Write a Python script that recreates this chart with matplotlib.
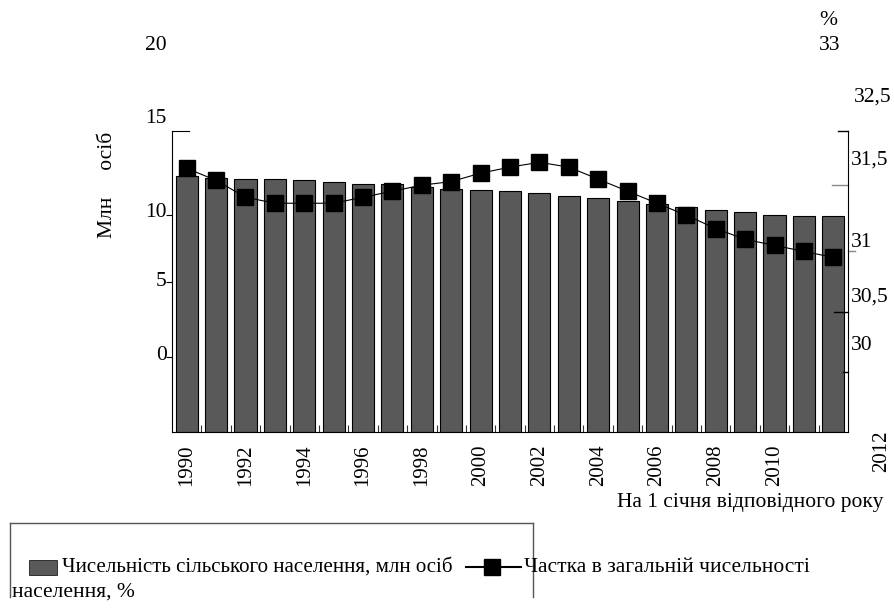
import numpy as np
import matplotlib
matplotlib.use('Agg')
import matplotlib.pyplot as plt
from matplotlib import transforms
from matplotlib.patches import Rectangle
from matplotlib.lines import Line2D

plt.rcParams['font.family'] = ['Liberation Serif', 'DejaVu Serif']

W, H = 894, 614

years = list(range(1990, 2013))
rural_mln = [17.0, 16.9, 16.8, 16.8, 16.75, 16.6, 16.5, 16.5, 16.3, 16.15, 16.1, 16.0,
             15.9, 15.7, 15.55, 15.35, 15.15, 14.95, 14.75, 14.6, 14.4, 14.35, 14.35]
share_pct = [31.69, 31.59, 31.45, 31.40, 31.40, 31.40, 31.45, 31.50, 31.55, 31.58, 31.65, 31.70,
             31.74, 31.70, 31.60, 31.50, 31.40, 31.30, 31.19, 31.10, 31.05, 31.00, 30.95]

# tick labels as printed in the source (they do not sit on the scale)
left_labels = ['0', '5', '10', '15', '20']
left_label_vals = [5.05, 9.97, 14.6, 20.86, 25.7]
left_tick_vals = [4.98, 9.97, 14.42]
right_labels = ['30', '30,5', '31', '31,5', '32,5', '33', '%']
right_label_vals = [30.22, 30.62, 31.07, 31.76, 32.28, 32.71, 32.92]
year_labels = [str(y) for y in years[:-1:2]]

FS = 15.5

fig = plt.figure(figsize=(W / 100, H / 100), dpi=100)
ax = fig.add_axes([172 / W, 1 - 432 / H, 676 / W, 301 / H])
x = np.arange(len(years))

ax.bar(x, rural_mln, width=0.75, color='#595959', edgecolor='black', linewidth=0.8, zorder=2)
ax.set_xlim(-0.5, 22.5)
ax.set_ylim(0, 20)
ax.spines['top'].set_visible(False)
ax.spines['right'].set_visible(False)

# left axis
ax.set_yticks(left_tick_vals)
ax.set_yticklabels([])
ax.tick_params(axis='y', direction='out', length=4, width=0.8)
lt = transforms.blended_transform_factory(ax.transAxes, ax.transData)
for lab, v in zip(left_labels, left_label_vals):
    ax.text(-0.008, v, lab, transform=lt, ha='right', va='center', fontsize=FS, clip_on=False)
ax.plot([0, 17 / 676], [20, 20], transform=lt, color='black', lw=0.8, clip_on=False)

# x axis
ax.set_xticks(x[:-1:2])
ax.set_xticklabels(year_labels, rotation=90, fontsize=15)
ax.tick_params(axis='x', which='major', length=0, pad=9)
ax.set_xticks(np.arange(0.5, 22, 1), minor=True)
ax.tick_params(axis='x', which='minor', direction='in', length=5, width=0.8, color='#333333')
bt = transforms.blended_transform_factory(ax.transData, ax.transAxes)
ax.text(23.64, 0.005, str(years[-1]), transform=bt, rotation=90, ha='center', va='top',
        fontsize=15, clip_on=False)

# right axis
ax2 = ax.twinx()
ax2.set_ylim(29.5, 32.0)
ax2.set_xlim(-0.5, 22.5)
for s in ['top', 'left', 'bottom']:
    ax2.spines[s].set_visible(False)
ax2.set_yticks([])
ax2.plot(x, share_pct, color='black', lw=0.8, marker='s', ms=12, mfc='black', mec='black', zorder=3)
rt = transforms.blended_transform_factory(ax2.transAxes, ax2.transData)
for v, x0, x1, c in [(32.0, 838, 848, 'black'), (31.55, 832, 848, '#888888'),
                     (31.0, 848, 855, '#888888'), (30.5, 834, 848, 'black'), (30.0, 843, 848, 'black')]:
    ax2.plot([(x0 - 172) / 676, (x1 - 172) / 676], [v, v], transform=rt, color=c, lw=1, clip_on=False)
for lab, v in zip(right_labels, right_label_vals):
    if lab in ('33', '%'):
        xp = (819 - 172) / 676
    elif lab == '32,5':
        xp = (854 - 172) / 676
    else:
        xp = (851 - 172) / 676
    ax2.text(xp, v, lab, transform=rt, ha='left', va='center', fontsize=FS, clip_on=False)

fig.text(108 / W, 1 - 185 / H, 'Млн     осіб', rotation=90, ha='center', va='center', fontsize=FS)
fig.text(883 / W, 1 - 503 / H, 'На 1 січня відповідного року', ha='right', va='center', fontsize=FS)

# legend, drawn by hand as in the source
fy = lambda p: 1 - p / H
box = '#555555'
fig.add_artist(Line2D([10 / W, 533 / W], [fy(523), fy(523)], color=box, lw=1))
fig.add_artist(Line2D([10 / W, 10 / W], [fy(523), fy(597)], color=box, lw=1))
fig.add_artist(Line2D([533 / W, 533 / W], [fy(523), fy(597)], color=box, lw=1))
fig.add_artist(Rectangle((29 / W, fy(575)), 28 / W, 15 / H, facecolor='#595959',
                         edgecolor='black', lw=0.5, transform=fig.transFigure))
fig.text(62 / W, fy(567), 'Чисельність сільського населення, млн осіб', va='center', fontsize=15.1)
fig.add_artist(Line2D([466 / W, 521 / W], [fy(567), fy(567)], color='black', lw=1.5))
fig.add_artist(Line2D([492 / W], [fy(567)], marker='s', ms=12, color='black', lw=0))
fig.text(524 / W, fy(567), 'Частка в загальній чисельності', va='center', fontsize=FS)
fig.text(12 / W, fy(592), 'населення, %', va='center', fontsize=FS)

fig.savefig('out.png', dpi=100)
